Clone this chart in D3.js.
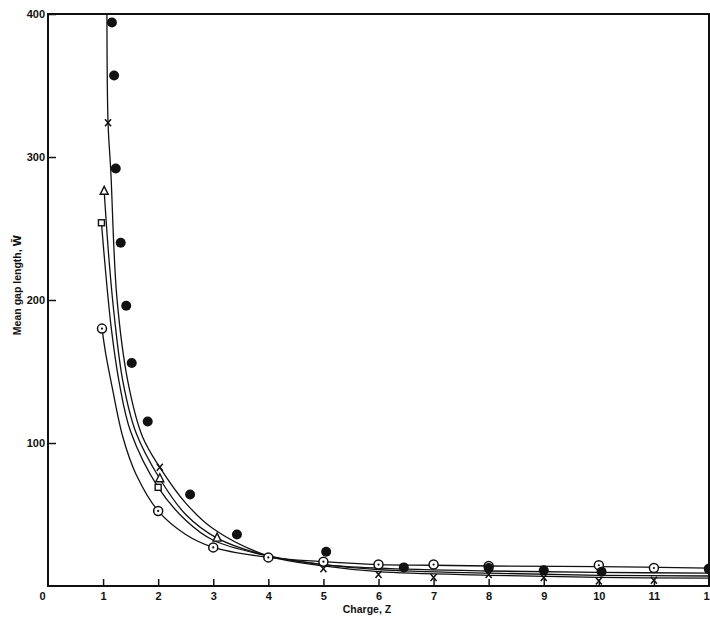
<!DOCTYPE html>
<html>
<head>
<meta charset="utf-8">
<script src="https://cdn.jsdelivr.net/npm/d3@7"></script>
<style>
  body { margin: 0; background: #fff; }
  svg { display: block; }
  .tick text { font-family: "Liberation Sans", Arial, sans-serif; font-weight: bold; font-size: 11px; fill: #111; }
  .axisText { font-family: "Liberation Sans", Arial, sans-serif; font-weight: bold; font-size: 10.5px; fill: #111; }
</style>
</head>
<body>
<script>
// data
// filled circles (no fitted line)
var filledZ = [1.16, 1.2, 1.23, 1.32, 1.42, 1.52, 1.81, 2.58, 3.43, 5.05, 6.46, 8.0, 9.0, 10.05, 12.0];
var filledW = [394, 357, 292, 240, 196, 156, 115, 64, 36, 24, 13, 12.6, 11, 10, 12];

// crosses
var crossZ = [1.09, 2.03, 5, 6, 7, 8, 9, 10, 11];
var crossW = [324, 83, 12, 8, 6, 8, 6, 3.5, 4];

// triangles
var triZ = [1.02, 2.03, 3.07];
var triW = [276, 75, 33.5];

// squares
var sqZ = [0.97, 2.0];
var sqW = [254, 69];

// dotted circles
var dotZ = [0.98, 2, 3, 4, 5, 6, 7, 8, 10, 11, 12];
var dotW = [180, 52.5, 27, 20, 17, 15, 15, 14, 14.5, 12.6, 12];

// fitted curves, points
var crossCurveZ = [1.07, 1.09, 1.14, 1.25, 1.45, 1.72, 2.03, 2.5, 3, 4, 5, 6, 8, 10, 12];
var crossCurveW = [400, 324, 290, 202, 143, 104, 83, 58, 40, 21, 14, 10, 7.5, 6, 5.5];

var triCurveZ = [1.02, 1.1, 1.2, 1.36, 1.6, 2.03, 2.5, 3.07, 4, 5, 6, 8, 10, 12];
var triCurveW = [276, 232, 190, 143, 107, 75, 50, 33.5, 21, 15, 11.5, 9, 7.5, 7];

var sqCurveZ = [0.97, 1.05, 1.15, 1.29, 1.5, 2.0, 2.5, 3, 4, 5, 6, 8, 10, 12];
var sqCurveW = [254, 218, 180, 143, 108, 69, 46, 32, 21, 15, 12.5, 10.5, 9.5, 9];

var dotCurveZ = [0.98, 1.05, 1.16, 1.36, 1.6, 2, 2.5, 3, 4, 5, 6, 7, 8, 10, 12];
var dotCurveW = [180, 162, 140, 104, 78, 52.5, 36, 27, 20, 17, 15, 14.5, 14, 13.5, 12.5];

var xTicks = [0, 1, 2, 3, 4, 5, 6, 7, 8, 9, 10, 11, 12];
var yTicks = [100, 200, 300, 400];

var svgWidth = 710;
var svgHeight = 618;

var margin = { top: 14, right: 1, bottom: 32, left: 48 };
var width = svgWidth - margin.left - margin.right;
var height = svgHeight - margin.top - margin.bottom;

var svg = d3.select("body")
  .append("svg")
  .attr("width", svgWidth)
  .attr("height", svgHeight);

var chartGroup = svg.append("g")
  .attr("transform", `translate(${margin.left}, ${margin.top})`);

var xScale = d3.scaleLinear().domain([0, 12]).range([0, width]);
var yScale = d3.scaleLinear().domain([0, 400]).range([height, 0]);

// frame
chartGroup.append("rect")
  .attr("x", 0).attr("y", 0)
  .attr("width", width).attr("height", height)
  .attr("fill", "none")
  .attr("stroke", "#111")
  .attr("stroke-width", 2);

// x axis, ticks pointing up
var bottomAxis = d3.axisBottom(xScale)
  .tickValues(xTicks)
  .tickSize(-7)
  .tickPadding(5)
  .tickFormat(d3.format("d"));

var xAxisG = chartGroup.append("g")
  .attr("transform", `translate(0, ${height})`)
  .call(bottomAxis);
xAxisG.select(".domain").remove();
xAxisG.selectAll(".tick line").attr("stroke", "#111").attr("stroke-width", 1.5)
  .attr("display", d => (d === 0 || d === 12) ? "none" : null);
xAxisG.selectAll(".tick text").attr("y", 6);
xAxisG.selectAll(".tick").filter(d => d === 0).select("text").attr("dx", "-6");

// y axis, ticks pointing in
var leftAxis = d3.axisLeft(yScale)
  .tickValues(yTicks)
  .tickSize(-8)
  .tickPadding(3)
  .tickFormat(d3.format("d"));

var yAxisG = chartGroup.append("g").call(leftAxis);
yAxisG.select(".domain").remove();
yAxisG.selectAll(".tick line").attr("stroke", "#111").attr("stroke-width", 1.5);

// axis labels
var yLabel = chartGroup.append("text")
  .attr("transform", "rotate(-90)")
  .attr("x", 0 - 285 + margin.top)
  .attr("y", 21 - margin.left)
  .attr("text-anchor", "middle")
  .attr("class", "axisText");
yLabel.append("tspan").text("Mean  gap  length,  ");
yLabel.append("tspan")
  .style("font-family", "'DejaVu Sans', sans-serif")
  .text("W\u0304");

chartGroup.append("text")
  .attr("x", 367 - margin.left)
  .attr("y", height + 27)
  .attr("text-anchor", "middle")
  .attr("class", "axisText")
  .text("Charge, Z");

// clip for curves
chartGroup.append("clipPath").attr("id", "plotClip")
  .append("rect").attr("x", 0).attr("y", 0).attr("width", width).attr("height", height);

var line = d3.line()
  .x(d => xScale(d[0]))
  .y(d => yScale(d[1]))
  .curve(d3.curveCatmullRom.alpha(0.5));

var curves = [
  [crossCurveZ, crossCurveW],
  [triCurveZ, triCurveW],
  [sqCurveZ, sqCurveW],
  [dotCurveZ, dotCurveW]
];

curves.forEach(function(c) {
  var pts = c[0].map((z, i) => [z, c[1][i]]);
  chartGroup.append("path")
    .datum(pts)
    .attr("clip-path", "url(#plotClip)")
    .attr("fill", "none")
    .attr("stroke", "#111")
    .attr("stroke-width", 1.3)
    .attr("d", line);
});

function pairs(zs, ws) { return zs.map((z, i) => ({ z: z, w: ws[i] })); }

// dotted circles
var dotG = chartGroup.selectAll(".dotpt")
  .data(pairs(dotZ, dotW))
  .enter().append("g")
  .attr("transform", d => `translate(${xScale(d.z)}, ${yScale(d.w)})`);
dotG.append("circle").attr("r", 4.5).attr("fill", "#fff").attr("stroke", "#111").attr("stroke-width", 1.5);
dotG.append("circle").attr("r", 1.1).attr("fill", "#111");

// squares
chartGroup.selectAll(".sqpt")
  .data(pairs(sqZ, sqW))
  .enter().append("rect")
  .attr("x", d => xScale(d.z) - 3)
  .attr("y", d => yScale(d.w) - 3)
  .attr("width", 6).attr("height", 6)
  .attr("fill", "#fff").attr("stroke", "#111").attr("stroke-width", 1.4);

// triangles
chartGroup.selectAll(".tript")
  .data(pairs(triZ, triW))
  .enter().append("path")
  .attr("transform", d => `translate(${xScale(d.z)}, ${yScale(d.w)})`)
  .attr("d", "M0,-5 L4,3 L-4,3 Z")
  .attr("fill", "#fff").attr("stroke", "#111").attr("stroke-width", 1.4);

// crosses
chartGroup.selectAll(".crosspt")
  .data(pairs(crossZ, crossW))
  .enter().append("path")
  .attr("transform", d => `translate(${xScale(d.z)}, ${yScale(d.w)})`)
  .attr("d", "M-3,-3.5 L3,3.5 M3,-3.5 L-3,3.5")
  .attr("fill", "none").attr("stroke", "#111").attr("stroke-width", 1.5);

// filled circles
chartGroup.selectAll(".filledpt")
  .data(pairs(filledZ, filledW))
  .enter().append("circle")
  .attr("cx", d => xScale(d.z))
  .attr("cy", d => yScale(d.w))
  .attr("r", 5)
  .attr("fill", "#111");
</script>
</body>
</html>
